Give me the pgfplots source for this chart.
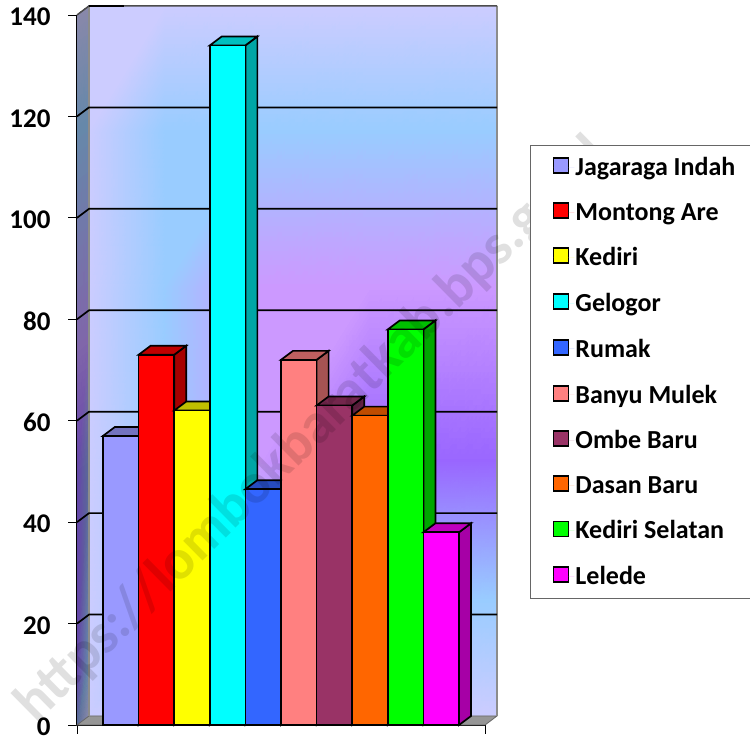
\documentclass[border=0pt]{standalone}
\usepackage{pgfplots}
\usepackage{fontspec}
\pgfplotsset{compat=1.18}
\setmainfont{Carlito}

\definecolor{c0}{HTML}{CCCCFF}
\definecolor{c1}{HTML}{99CCFF}
\definecolor{c2}{HTML}{CC99FF}
\definecolor{c3}{HTML}{9966FF}
\definecolor{wl0}{HTML}{8888AA}
\definecolor{wl1}{HTML}{6688AA}
\definecolor{wl2}{HTML}{8066AA}
\definecolor{wl3}{HTML}{6644AA}
\definecolor{wl4}{HTML}{5A6A98}
\definecolor{jagaraga}{HTML}{9999FF}
\definecolor{montong}{HTML}{FF0000}
\definecolor{kediri}{HTML}{FFFF00}
\definecolor{gelogor}{HTML}{00FFFF}
\definecolor{rumak}{HTML}{3366FF}
\definecolor{banyu}{HTML}{FF8080}
\definecolor{ombe}{HTML}{993366}
\definecolor{dasan}{HTML}{FF6600}
\definecolor{selatan}{HTML}{00FF00}
\definecolor{lelede}{HTML}{FF00FF}

\pgfplotsset{
  front/.style={ybar, bar shift=0pt, bar width=1, draw=black, line width=1.7pt, fill=#1,
    legend image code/.code={\draw[draw=black,line width=1.9pt,fill=#1] (0pt,-6pt) rectangle (15pt,9pt); \path[draw=none] (0pt,0pt) -- (21pt,0pt);}},
}

% side and top of a bar, then its front: x, value, colour
\newcommand{\threedbar}[3]{
  \pgfmathsetmacro\xa{#1-0.5}
  \pgfmathsetmacro\xb{#1+0.5}
  \pgfmathsetmacro\xc{#1+0.837}
  \pgfmathsetmacro\xd{#1-0.163}
  \pgfmathsetmacro\yb{#2+1.775}
  \addplot[forget plot, fill=#3!65!black, draw=black, line width=1.7pt] coordinates {(\xb,0)(\xc,1.775)(\xc,\yb)(\xb,#2)} --cycle;
  \addplot[forget plot, fill=#3!75!black, draw=black, line width=1.7pt] coordinates {(\xa,#2)(\xd,\yb)(\xc,\yb)(\xb,#2)} --cycle;
  \addplot[front=#3] coordinates {(#1,#2)};
}

\begin{document}
\begin{tikzpicture}
\path[use as bounding box] (0,0) rectangle (750pt,739pt);
\begin{axis}[
    at={(77pt,14pt)}, anchor=south west,
    scale only axis, width=408pt, height=710pt,
    xmin=-1.23, xmax=10.23, ymin=0, ymax=140,
    clip=false,
    axis y line=left, axis x line=bottom,
    axis line style={-, line width=2pt},
    tick align=outside, major tick length=9pt,
    tick style={black, line width=0.9pt},
    xtick={-1.23,10.23}, xticklabels={},
    ytick={0,20,...,140},
    /pgf/number format/assume math mode=true,
    y tick label style={font=\fontsize{27}{27}\selectfont\bfseries, xshift=-14pt, yshift=-2pt},
    legend cell align=left,
    legend style={at={(1.1103,0.817)}, anchor=north west, draw=black!60, line width=1pt,
      font=\fontsize{26}{26}\selectfont\bfseries, inner xsep=22pt, inner ysep=11pt,
      row sep=24pt, nodes={inner sep=1pt}},
  ]

  % back wall
  \addplot[forget plot, surf, shader=interp, mesh/cols=5, mesh/color input=explicit] table[meta=c] {
    x y c
    -0.893 141.775 color=c0
    1.244 141.775 color=c0
    3.938 141.775 color=c0
    7.0 141.775 color=c0
    10.567 141.775 color=c0
    -0.893 117.3 color=c0
    1.244 117.3 color=c1
    3.938 117.3 color=c1
    7.0 117.3 color=c1
    10.567 117.3 color=c1
    -0.893 86.77 color=c0
    1.244 86.77 color=c1
    3.938 86.77 color=c2
    7.0 86.77 color=c2
    10.567 86.77 color=c2
    -0.893 52.26 color=c0
    1.244 52.26 color=c1
    3.938 52.26 color=c2
    7.0 52.26 color=c3
    10.567 52.26 color=c3
    -0.893 24.65 color=c0
    1.244 24.65 color=c1
    3.938 24.65 color=c1
    7.0 24.65 color=c1
    10.567 24.65 color=c1
    -0.893 1.775 color=c0
    1.244 1.775 color=c0
    3.938 1.775 color=c0
    7.0 1.775 color=c0
    10.567 1.775 color=c0
  };
  % left wall
  \addplot[forget plot, surf, shader=interp, mesh/cols=2, mesh/color input=explicit] table[meta=c] {
    x y c
    -1.23 140 color=wl0
    -0.893 141.775 color=wl0
    -1.23 118 color=wl1
    -0.893 119.775 color=wl1
    -1.23 75 color=wl2
    -0.893 76.775 color=wl2
    -1.23 50 color=wl3
    -0.893 51.775 color=wl4
    -1.23 10 color=wl3
    -0.893 11.775 color=wl1
    -1.23 0 color=wl4
    -0.893 1.775 color=wl0
  };
  % floor
  \addplot[forget plot, fill=black!41, draw=black!60, line width=0.8pt] coordinates {(-1.23,0)(-0.893,1.775)(10.567,1.775)(10.23,0)} --cycle;
  % wall edges
  \addplot[forget plot, black!45, line width=1.5pt] coordinates {(-0.893,1.775)(-0.893,141.775)};
  \addplot[forget plot, black!45, line width=1.8pt] coordinates {(10.567,141.775)(10.567,1.775)};
  \addplot[forget plot, black!70, line width=1.5pt] coordinates {(-1.23,140)(-0.893,141.775)(10.567,141.775)};
  \addplot[forget plot, black, line width=1.5pt] coordinates {(-0.893,141.775)(0.1,141.775)};

  % grid lines
  \pgfplotsinvokeforeach{20,40,60,80,100,120}{
    \pgfmathsetmacro\yg{#1+1.775}
    \addplot[forget plot, black, line width=1.7pt] coordinates {(-1.23,#1)(-0.893,\yg)(10.567,\yg)};
  }

  \threedbar{0}{57}{jagaraga}
  \threedbar{1}{73}{montong}
  \threedbar{2}{62}{kediri}
  \threedbar{3}{134}{gelogor}
  \threedbar{4}{46.5}{rumak}
  \threedbar{5}{72}{banyu}
  \threedbar{6}{63}{ombe}
  \threedbar{7}{61}{dasan}
  \threedbar{8}{78}{selatan}
  \threedbar{9}{38}{lelede}

  \legend{Jagaraga Indah,Montong Are,Kediri,Gelogor,Rumak,Banyu Mulek,Ombe Baru,Dasan Baru,Kediri Selatan,Lelede}

  % watermark
  \node[rotate=44.6, opacity=0.12, font=\fontsize{57}{57}\selectfont\bfseries, inner sep=0pt]
    at (axis cs:5.4,58) {https://lombokbaratkab.bps.go.id};
\end{axis}
\end{tikzpicture}
\end{document}
